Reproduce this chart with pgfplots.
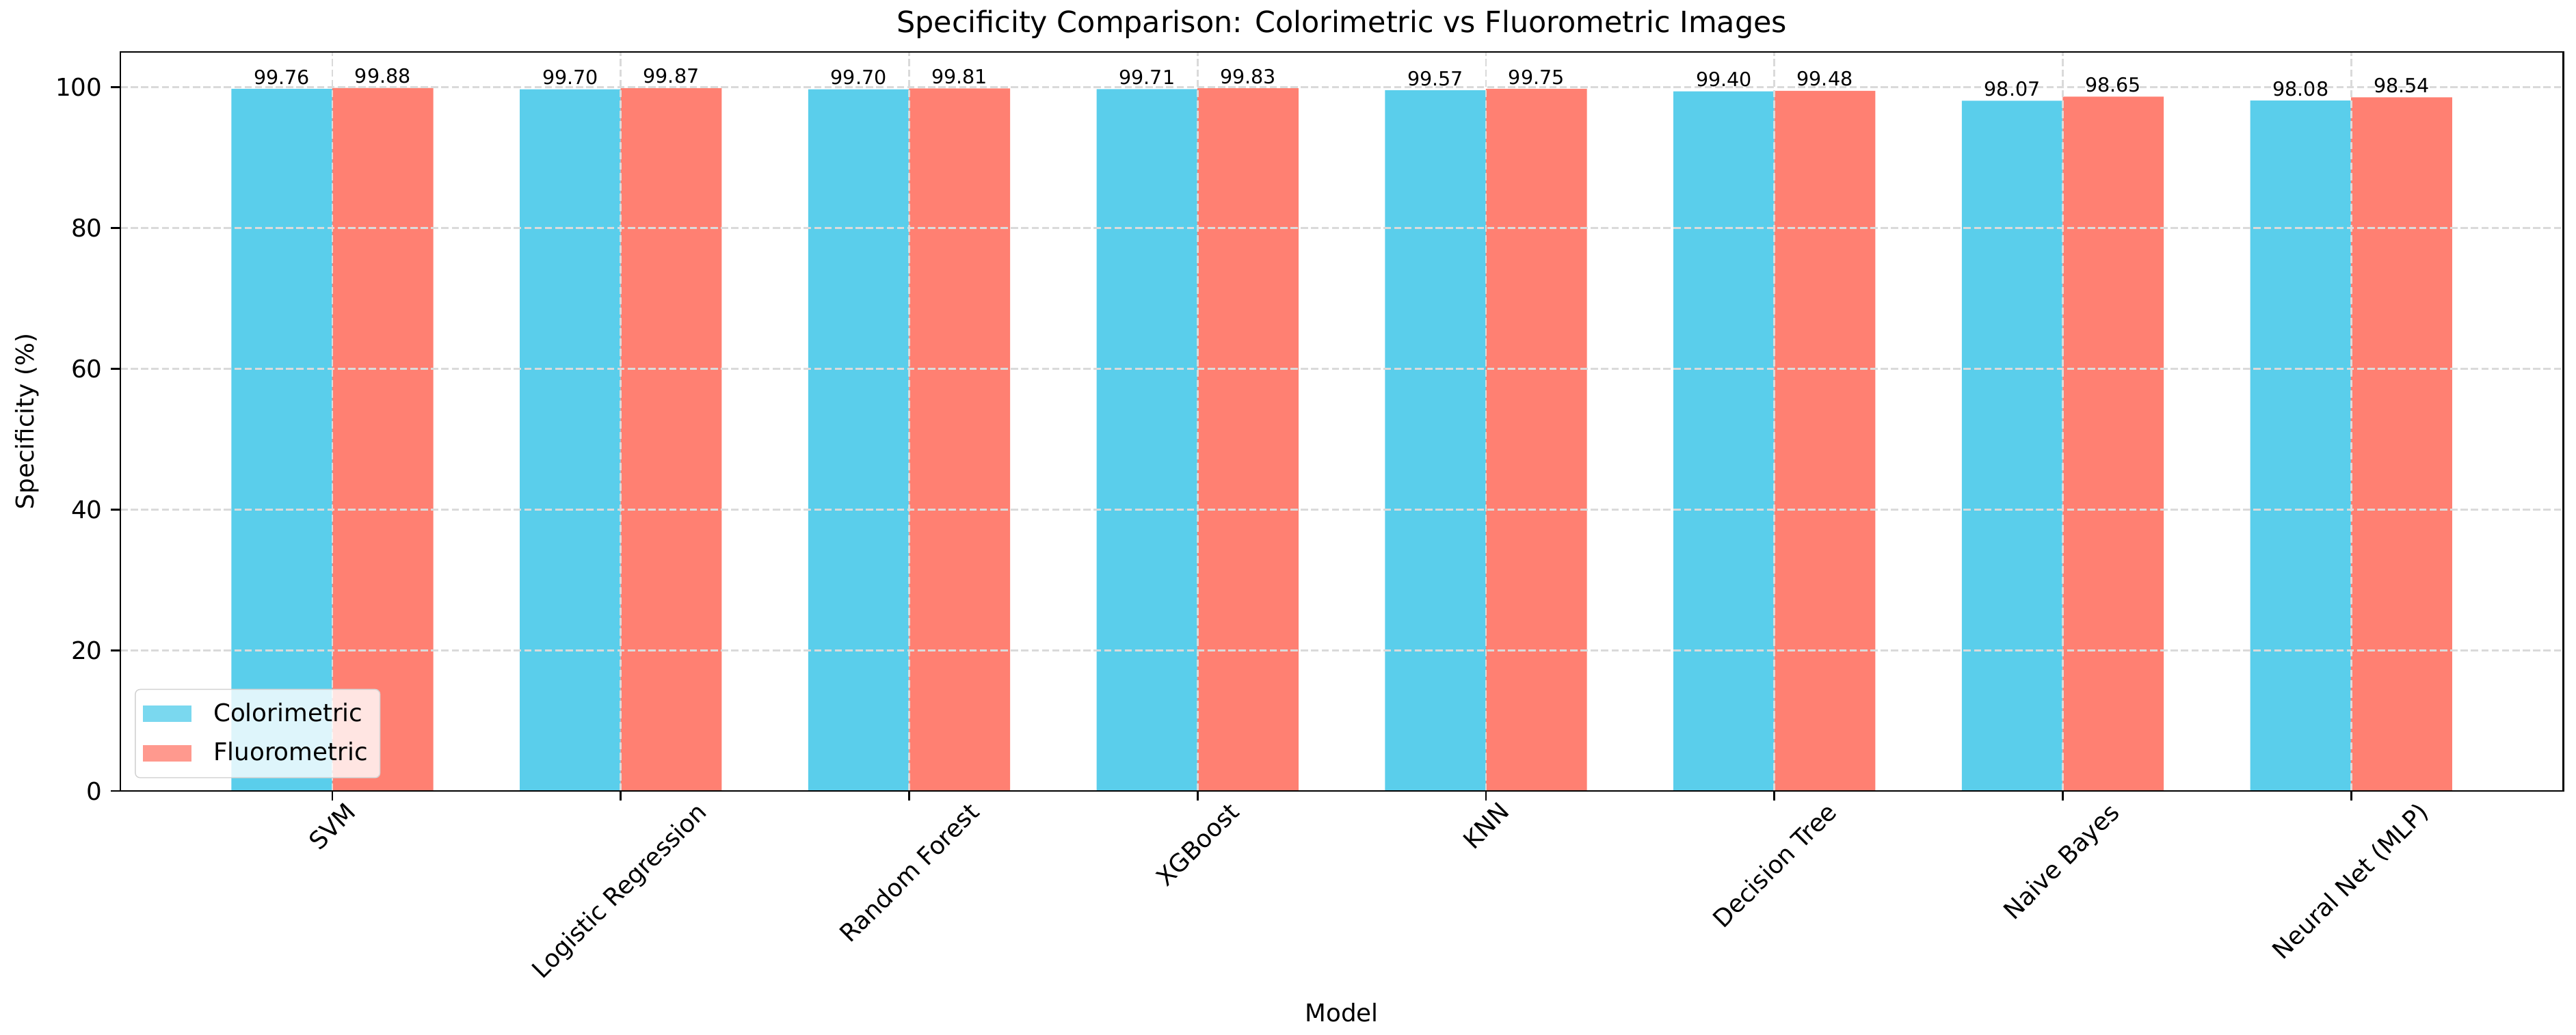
\documentclass[border=0pt]{standalone}
\usepackage{fontspec}
\setmainfont{DejaVu Sans}
\usepackage{graphicx}
\usepackage{pgfplots}
\pgfplotsset{compat=1.18}
\definecolor{colc}{RGB}{90,206,235}
\definecolor{colf}{RGB}{255,128,114}
\definecolor{gridc}{RGB}{218,218,218}
\begin{document}
\begin{tikzpicture}
\begin{axis}[
  at={(0,0)}, anchor=south west,
  scale only axis, width=1000.2pt, height=302.7pt,
  xmin=-0.735, xmax=7.735, ymin=0, ymax=105,
  ybar, bar width=0.35,
  xtick={0,1,2,3,4,5,6,7},
  xticklabels={{\rotatebox{45}{SVM}},{\rotatebox{45}{Logistic Regression}},{\rotatebox{45}{Random Forest}},{\rotatebox{45}{XGBoost}},{\rotatebox{45}{KNN}},{\rotatebox{45}{Decision Tree}},{\rotatebox{45}{Naive Bayes}},{\rotatebox{45}{Neural Net (MLP)}}},
  ytick={0,20,40,60,80,100},
  xtick pos=bottom, ytick pos=left,
  tick align=outside, major tick length=3.9pt,
  tick style={black, line width=0.8pt},
  axis line style={line width=0.8pt},
  grid=major,
  major grid style={gridc, line width=0.8pt, dash pattern=on 2.96pt off 1.28pt},
  axis on top,
  tick label style={font=\fontsize{10}{12}\selectfont},
  xticklabel style={anchor=north, inner sep=0pt},
  /pgf/number format/assume math mode=true,
  nodes near coords={\pgfmathprintnumber[fixed,fixed zerofill,precision=2]{\pgfplotspointmeta}},
  nodes near coords style={font=\fontsize{8}{9.6}\selectfont, anchor=base, inner sep=0pt, yshift=1.9pt},
  legend style={at={(0.0059,0.0172)}, anchor=south west, draw=gray!35, rounded corners=2pt,
    fill=white, fill opacity=0.8, text opacity=1, font=\fontsize{10}{12}\selectfont,
    inner xsep=3pt, inner ysep=3.5pt, row sep=3pt,
    /tikz/every odd column/.append style={column sep=7pt}},
  legend cell align=left,
  legend image code/.code={\fill[#1, sharp corners] (0pt,-3.4pt) rectangle (20pt,3.4pt);},
]
\addplot[fill=colc, draw=none, bar shift=-0.175] coordinates {(0,99.76) (1,99.70) (2,99.70) (3,99.71) (4,99.57) (5,99.40) (6,98.07) (7,98.08)};
\addplot[fill=colf, draw=none, bar shift=0.175] coordinates {(0,99.88) (1,99.87) (2,99.81) (3,99.83) (4,99.75) (5,99.48) (6,98.65) (7,98.54)};
\legend{Colorimetric, Fluorometric}
\end{axis}
\node[anchor=base, font=\fontsize{12}{14}\selectfont] at (500.1pt,310.54pt) {Specificity Comparison: Colorimetric vs Fluorometric Images};
\node[anchor=base, font=\fontsize{10}{12}\selectfont] at (500.1pt,-94.4pt) {Model};
\node[anchor=base, rotate=90, font=\fontsize{10}{12}\selectfont] at (-35.3pt,151.35pt) {Specificity (\%)};
\pgfresetboundingbox
\path[use as bounding box] (-49.28pt,-99.68pt) rectangle (1005.48pt,323.96pt);
\end{tikzpicture}
\end{document}
